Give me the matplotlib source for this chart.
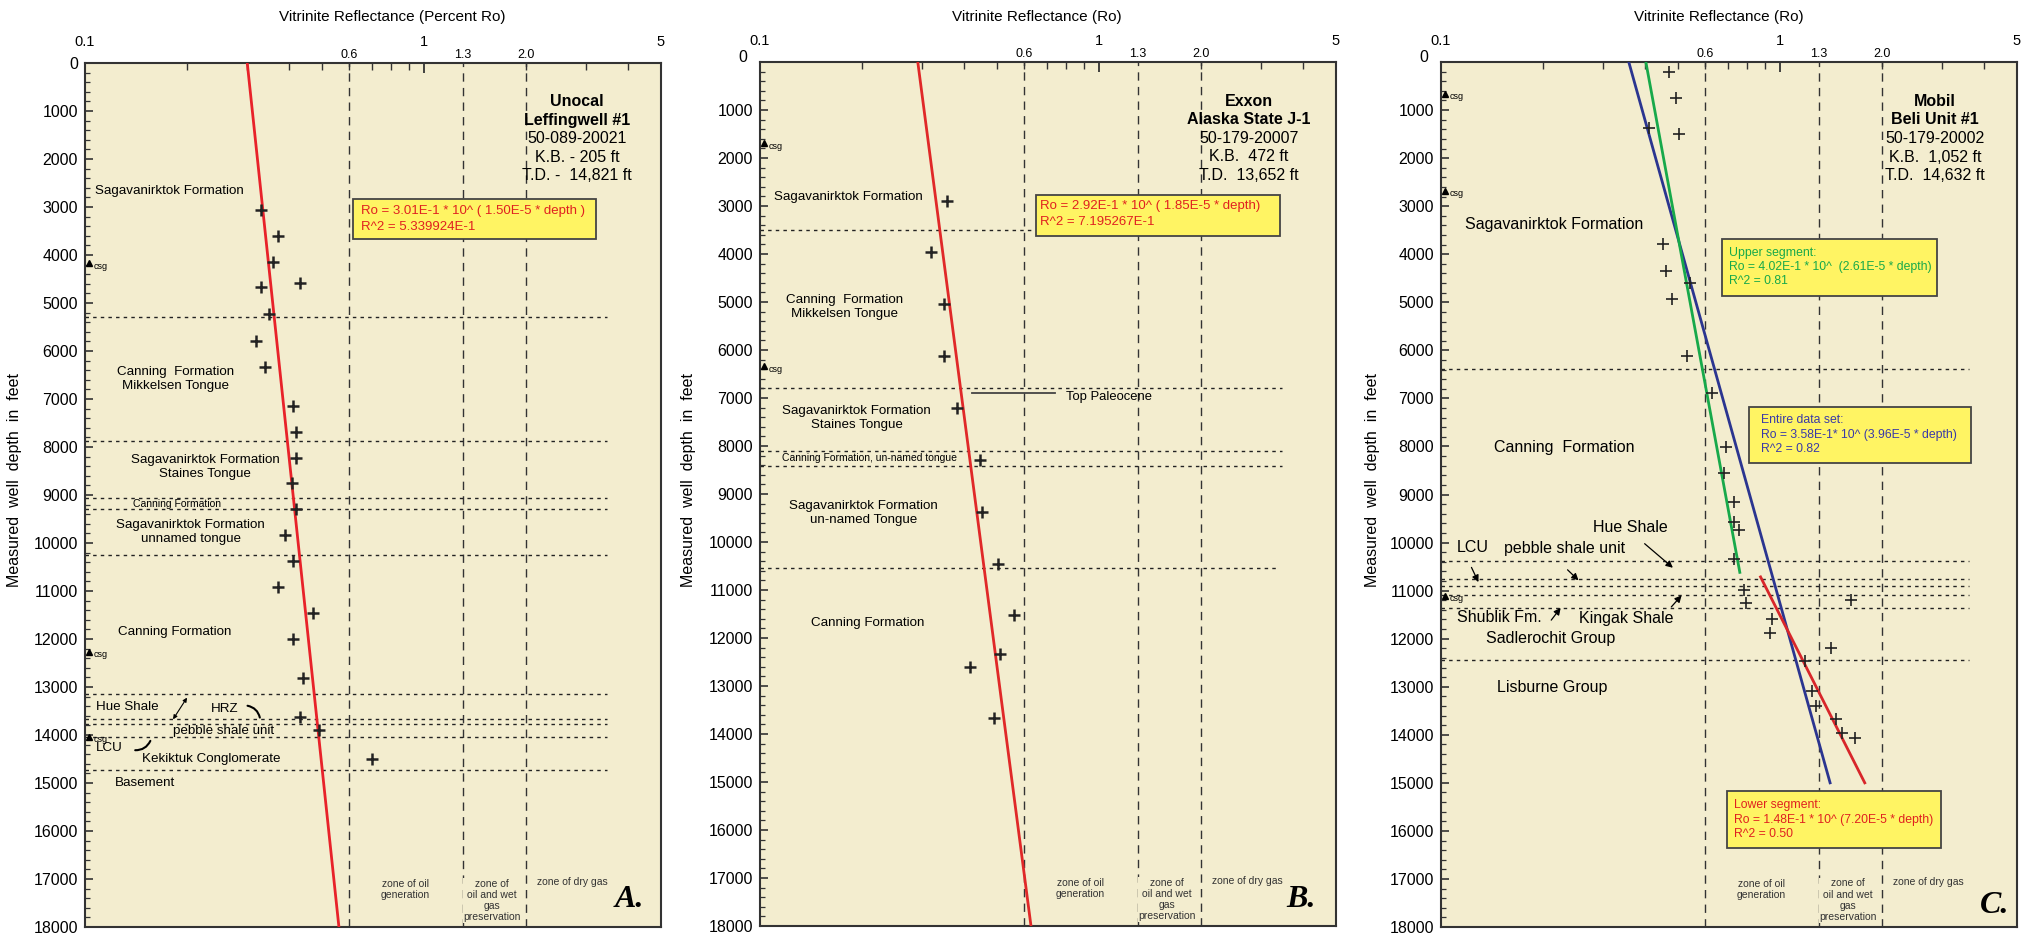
import matplotlib.pyplot as plt
from matplotlib.patches import Rectangle
from matplotlib.ticker import FixedLocator, NullFormatter, MultipleLocator
import numpy as np

plt.rcParams['font.family'] = ['Liberation Sans', 'DejaVu Sans']

BG = "#f3edcf"
BOX = "#fff463"
INK = "#222222"

# shared axis setup
zone_ro = [0.6, 1.3, 2.0]
zone_labels = ["0.6", "1.3", "2.0"]
top_major = [0.1, 1, 5]
top_major_labels = ["0.1", "1", "5"]
top_minor = [0.2, 0.3, 0.4, 0.5, 0.6, 0.7, 0.8, 0.9, 2, 3, 4]
depth_ticks = list(range(0, 18001, 1000))

# ---- A. Unocal Leffingwell #1 ----
A_ro = [0.330, 0.370, 0.359, 0.430, 0.330, 0.350, 0.320, 0.340, 0.411, 0.420,
        0.420, 0.409, 0.420, 0.389, 0.411, 0.370, 0.470, 0.411, 0.441, 0.430,
        0.490, 0.702]
A_depth = [3064, 3609, 4141, 4576, 4665, 5230, 5798, 6340, 7146, 7688,
           8222, 8757, 9299, 9840, 10375, 10924, 11465, 12000, 12819, 13625,
           13896, 14500]
A_fit_ro = [0.301, 0.561]
A_fit_depth = [0, 18000]
A_tops = [5285, 7868, 9069, 9299, 10257, 13146, 13660, 13778, 14048, 14722]
A_tops_end = [0.906] * 10
A_csg = [4170, 12264, 14042]

# ---- B. Exxon Alaska State J-1 ----
B_ro = [0.356, 0.320, 0.350, 0.350, 0.380, 0.447, 0.451, 0.502, 0.560,
        0.511, 0.415, 0.490]
B_depth = [2889, 3966, 5040, 6131, 7208, 8292, 9369, 10452, 11529,
           12340, 12610, 13660]
B_fit_ro = [0.292, 0.630]
B_fit_depth = [0, 18000]
B_tops = [3494, 6798, 8097, 8410, 10535]
B_tops_end = [0.47, 0.906, 0.906, 0.906, 0.9]
B_csg = [1690, 6340]

# ---- C. Mobil Beli Unit #1 ----
C_ro = [0.472, 0.492, 0.410, 0.502, 0.451, 0.460, 0.544, 0.480, 0.531,
        0.630, 0.694, 0.682, 0.731, 0.731, 0.755, 0.731, 0.783, 0.792,
        1.616, 0.944, 0.933, 1.416, 1.181, 1.244, 1.273, 1.458, 1.522, 1.659]
C_depth = [215, 743, 1375, 1493, 3778, 4340, 4597, 4924, 6125,
           6896, 8021, 8556, 9160, 9577, 9742, 10340, 10979, 11256,
           11200, 11590, 11889, 12190, 12458, 13090, 13402, 13681, 13973, 14069]
C_all_ro = [0.358, 1.405]
C_all_depth = [0, 15000]
C_upper_ro = [0.402, 0.761]
C_upper_depth = [0, 10620]
C_lower_ro = [0.876, 1.778]
C_lower_depth = [10715, 15000]
C_tops = [6382, 10382, 10764, 10896, 11098, 11354, 12438]
C_tops_end = [0.917] * 7
C_csg = [667, 2681, 11110]

fig = plt.figure(figsize=(20.23, 9.41), dpi=100)
W, H = 2023, 941


def make_axes(left, top, bottom, right):
    return fig.add_axes([left / W, (H - bottom) / H, (right - left) / W, (bottom - top) / H])


def setup(ax, title, title_x, ylabel_x, zero_high=False):
    ax.set_xscale('log')
    ax.set_xlim(0.1, 5)
    ax.set_ylim(18000, 0)
    ax.set_facecolor(BG)
    ax.xaxis.tick_top()
    ax.xaxis.set_major_locator(FixedLocator([1]))
    ax.xaxis.set_minor_locator(FixedLocator(top_minor))
    ax.xaxis.set_major_formatter(NullFormatter())
    ax.xaxis.set_minor_formatter(NullFormatter())
    ax.tick_params(axis='x', which='both', direction='in', top=True, bottom=False,
                   labeltop=False, labelbottom=False, color='#333333')
    ax.tick_params(axis='x', which='major', length=7, width=1.3)
    ax.tick_params(axis='x', which='minor', length=5, width=1)
    labels = [str(d) for d in depth_ticks]
    if zero_high:
        labels[0] = ""
        ax.annotate("0", xy=(0, 1), xycoords='axes fraction', xytext=(-9, 3),
                    textcoords='offset points', ha='right', va='center', fontsize=11.5)
    ax.set_yticks(depth_ticks, labels=labels)
    ax.yaxis.set_minor_locator(MultipleLocator(200))
    ax.tick_params(axis='y', which='major', direction='in', length=6, width=1.2,
                   labelsize=11.5, pad=5, color='#333333')
    ax.tick_params(axis='y', which='minor', direction='in', length=3.5, width=0.9,
                   color='#333333')
    for s in ax.spines.values():
        s.set_color('#333333')
        s.set_linewidth(1.5)
    for v, lab in zip(top_major, top_major_labels):
        ax.annotate(lab, xy=(v, 1), xycoords=('data', 'axes fraction'), xytext=(0, 15),
                    textcoords='offset points', ha='center', va='center', fontsize=10.5)
    for v, lab in zip(zone_ro, zone_labels):
        ax.annotate(lab, xy=(v, 1), xycoords=('data', 'axes fraction'), xytext=(0, 6),
                    textcoords='offset points', ha='center', va='center', fontsize=9)
        ax.axvline(v, color='#333333', lw=1, dashes=(6, 4.5), zorder=1)
    fig.text(title_x / W, 1 - 17 / H, title, ha='center', va='center', fontsize=11)
    fig.text(ylabel_x / W, 1 - 480 / H, "Measured  well  depth  in  feet", rotation=90,
             ha='center', va='center', fontsize=11.5)


def tops(ax, depths, ends):
    for d, e in zip(depths, ends):
        ax.axhline(d, xmin=0, xmax=e, color=INK, lw=1, dashes=(2.5, 3), zorder=1)


def csg(ax, depths, size=6.5):
    for d in depths:
        ax.plot([0.1025], [d], marker='^', ms=4.5, color='k', clip_on=False, zorder=4)
        ax.text(0.106, d + 60, "csg", fontsize=size, va='center', ha='left')


def zones(ax, letter, lx, ly):
    ax.text(0.88, 17215, "zone of oil\ngeneration", ha='center', va='center',
            fontsize=7.5, linespacing=1.15, color='#333333')
    ax.text(1.59, 17444, "zone of\noil and wet\ngas\npreservation", ha='center',
            va='center', fontsize=7.5, linespacing=1.15, color='#333333', zorder=3,
            bbox=dict(facecolor=BG, edgecolor='none', pad=0.5))
    ax.text(2.73, 17069, "zone of dry gas", ha='center', va='center', fontsize=7.5,
            color='#333333')
    ax.text(lx, ly, letter, ha='center', va='center', fontsize=23, fontweight='bold',
            fontstyle='italic', family=['Liberation Serif', 'DejaVu Serif'])


def well_block(ax, x, lines, depths):
    for i, (t, d) in enumerate(zip(lines, depths)):
        ax.text(x, d, t, ha='center', va='center', fontsize=11.5,
                fontweight='bold' if i < 2 else 'normal')


def eq_box(ax, ro0, ro1, d0, d1, tx, lines, ldepths, color, size):
    ax.add_patch(Rectangle((ro0, d0), ro1 - ro0, d1 - d0, facecolor=BOX,
                           edgecolor='#444444', lw=1.3, zorder=5))
    for t, d in zip(lines, ldepths):
        ax.text(tx, d, t, color=color, fontsize=size, ha='left', va='center', zorder=6)


def points(ax, ro, depth, mew=1.8, ms=9):
    ax.plot(ro, depth, linestyle='none', marker='+', ms=ms, mew=mew, color=INK, zorder=4)


# ---------------- Panel A ----------------
axA = make_axes(85, 63, 927, 661)
setup(axA, "Vitrinite Reflectance (Percent Ro)", 392, 15)
tops(axA, A_tops, A_tops_end)
axA.plot(A_fit_ro, A_fit_depth, color='#e8222a', lw=2, zorder=3)
points(axA, A_ro, A_depth)
csg(axA, A_csg)
well_block(axA, 2.83, ["Unocal", "Leffingwell #1", "50-089-20021", "K.B. - 205 ft",
                       "T.D. -  14,821 ft"], [806, 1188, 1577, 1965, 2348])
eq_box(axA, 0.616, 3.22, 2826, 3667, 0.653,
       ["Ro = 3.01E-1 * 10^ ( 1.50E-5 * depth )", "R^2 = 5.339924E-1"],
       [3076, 3410], '#e02020', 9.5)
fsA = 9.6
axA.text(0.107, 2667, "Sagavanirktok Formation", ha='left', va='center', fontsize=fsA)
axA.text(0.185, 6577, "Canning  Formation\nMikkelsen Tongue", ha='center', va='center',
         fontsize=fsA, linespacing=1.25)
axA.text(0.226, 8420, "Sagavanirktok Formation\nStaines Tongue", ha='center', va='center',
         fontsize=fsA, linespacing=1.25)
axA.text(0.187, 9188, "Canning Formation", ha='center', va='center', fontsize=7.5)
axA.text(0.205, 9774, "Sagavanirktok Formation\nunnamed tongue", ha='center', va='center',
         fontsize=fsA, linespacing=1.25)
axA.text(0.184, 11861, "Canning Formation", ha='center', va='center', fontsize=fsA)
axA.text(0.1335, 13410, "Hue Shale", ha='center', va='center', fontsize=fsA)
axA.text(0.258, 13451, "HRZ", ha='center', va='center', fontsize=fsA)
axA.text(0.256, 13923, "pebble shale unit", ha='center', va='center', fontsize=fsA)
axA.text(0.118, 14278, "LCU", ha='center', va='center', fontsize=fsA)
axA.text(0.236, 14493, "Kekiktuk Conglomerate", ha='center', va='center', fontsize=fsA)
axA.text(0.150, 15006, "Basement", ha='center', va='center', fontsize=fsA)
axA.annotate('', xy=(0.202, 13173), xytext=(0.180, 13722),
             arrowprops=dict(arrowstyle='<|-|>', color='k', lw=0.8, mutation_scale=6))
axA.annotate('', xy=(0.329, 13694), xytext=(0.296, 13382),
             arrowprops=dict(arrowstyle='-', color='k', lw=1.5,
                             connectionstyle='arc3,rad=-0.4'))
axA.annotate('', xy=(0.157, 14069), xytext=(0.138, 14313),
             arrowprops=dict(arrowstyle='-', color='k', lw=1.5,
                             connectionstyle='arc3,rad=0.4'))
zones(axA, "A.", 4.03, 17437)

# ---------------- Panel B ----------------
axB = make_axes(760, 62, 926, 1336)
setup(axB, "Vitrinite Reflectance (Ro)", 1037, 689, zero_high=True)
tops(axB, B_tops, B_tops_end)
axB.plot(B_fit_ro, B_fit_depth, color='#e02828', lw=2, zorder=3)
points(axB, B_ro, B_depth)
csg(axB, B_csg)
well_block(axB, 2.77, ["Exxon", "Alaska State J-1", "50-179-20007", "K.B.  472 ft",
                       "T.D.  13,652 ft"], [820, 1188, 1590, 1979, 2362])
eq_box(axB, 0.652, 3.41, 2778, 3618, 0.67,
       ["Ro = 2.92E-1 * 10^ ( 1.85E-5 * depth)", "R^2 = 7.195267E-1"],
       [3007, 3340], '#e02020', 9.5)
axB.plot([0.421, 0.741], [6889, 6889], color='#444444', lw=1.3, zorder=3)
axB.text(0.797, 6972, "Top Paleocene", ha='left', va='center', fontsize=9.4)
axB.text(0.182, 2820, "Sagavanirktok Formation", ha='center', va='center', fontsize=fsA)
axB.text(0.177, 5103, "Canning  Formation\nMikkelsen Tongue", ha='center', va='center',
         fontsize=fsA, linespacing=1.25)
axB.text(0.193, 7410, "Sagavanirktok Formation\nStaines Tongue", ha='center', va='center',
         fontsize=fsA, linespacing=1.25)
axB.text(0.211, 8250, "Canning Formation, un-named tongue", ha='center', va='center',
         fontsize=7.5)
axB.text(0.202, 9390, "Sagavanirktok Formation\nun-named Tongue", ha='center',
         va='center', fontsize=fsA, linespacing=1.25)
axB.text(0.208, 11686, "Canning Formation", ha='center', va='center', fontsize=fsA)
zones(axB, "B.", 3.93, 17452)

# ---------------- Panel C ----------------
axC = make_axes(1441, 62, 927, 2017)
setup(axC, "Vitrinite Reflectance (Ro)", 1719, 1372, zero_high=True)
tops(axC, C_tops, C_tops_end)
axC.plot(C_all_ro, C_all_depth, color='#2b3590', lw=2, zorder=3)
axC.plot(C_upper_ro, C_upper_depth, color='#17a94a', lw=2, zorder=3)
axC.plot(C_lower_ro, C_lower_depth, color='#d8262a', lw=2, zorder=3)
points(axC, C_ro, C_depth, mew=1.2, ms=9)
csg(axC, C_csg)
well_block(axC, 2.86, ["Mobil", "Beli Unit #1", "50-179-20002", "K.B.  1,052 ft",
                       "T.D.  14,632 ft"], [820, 1188, 1590, 1979, 2362])
eq_box(axC, 0.676, 2.90, 3681, 4861, 0.708,
       ["Upper segment:", "Ro = 4.02E-1 * 10^  (2.61E-5 * depth)", "R^2 = 0.81"],
       [3965, 4264, 4563], '#17a94a', 8.8)
eq_box(axC, 0.808, 3.65, 7181, 8348, 0.876,
       ["Entire data set:", "Ro = 3.58E-1* 10^ (3.96E-5 * depth)", "R^2 = 0.82"],
       [7444, 7764, 8063], '#3a3aa8', 8.8)
eq_box(axC, 0.699, 2.99, 15173, 16360, 0.733,
       ["Lower segment:", "Ro = 1.48E-1 * 10^ (7.20E-5 * depth)", "R^2 = 0.50"],
       [15465, 15771, 16063], '#e02020', 8.8)
fsC = 11.5
axC.text(0.216, 3375, "Sagavanirktok Formation", ha='center', va='center', fontsize=fsC)
axC.text(0.231, 8028, "Canning  Formation", ha='center', va='center', fontsize=fsC)
axC.text(0.361, 9681, "Hue Shale", ha='center', va='center', fontsize=fsC)
axC.text(0.124, 10104, "LCU", ha='center', va='center', fontsize=fsC)
axC.text(0.232, 10131, "pebble shale unit", ha='center', va='center', fontsize=fsC)
axC.text(0.149, 11556, "Shublik Fm.", ha='center', va='center', fontsize=fsC)
axC.text(0.352, 11577, "Kingak Shale", ha='center', va='center', fontsize=fsC)
axC.text(0.211, 11994, "Sadlerochit Group", ha='center', va='center', fontsize=fsC)
axC.text(0.213, 13013, "Lisburne Group", ha='center', va='center', fontsize=fsC)
for (x0, d0), (x1, d1) in [((0.393, 9986), (0.490, 10562)),
                           ((0.122, 10465), (0.130, 10875)),
                           ((0.233, 10527), (0.258, 10827)),
                           ((0.209, 11660), (0.228, 11313)),
                           ((0.472, 11382), (0.519, 11056))]:
    axC.annotate('', xy=(x1, d1), xytext=(x0, d0),
                 arrowprops=dict(arrowstyle='-|>', color='k', lw=0.9, mutation_scale=10))
zones(axC, "C.", 4.28, 17563)

fig.savefig("out.png", dpi=100, facecolor='white')
